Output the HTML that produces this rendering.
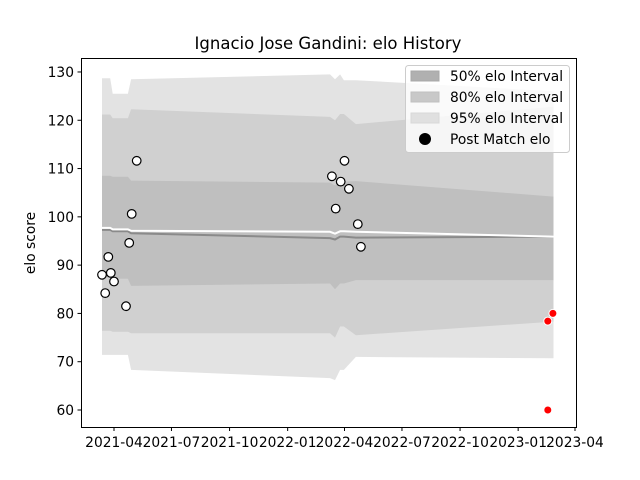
<!DOCTYPE html>
<html><head><meta charset="utf-8">
<style>
body{margin:0;background:#fff;}
svg{display:block;font-family:"DejaVu Sans","Liberation Sans",sans-serif;}
</style></head>
<body>
<svg id="chart" width="640" height="480" viewBox="0 0 640 480">
<rect x="0" y="0" width="640" height="480" fill="#fff"/>
<text x="328" y="49" font-size="16.5" text-anchor="middle">Ignacio Jose Gandini: elo History</text>
<text x="0" y="0" font-size="13.8" text-anchor="middle" transform="translate(35,243) rotate(-90)">elo score</text>
<g id="bands"></g>
<g id="lines"></g>
<g id="points"></g>
<g id="axes"></g>
<g id="legend">
<rect x="405.5" y="65.5" width="164" height="87" rx="3" fill="#fff" fill-opacity="0.8" stroke="#ccc"/>
<rect x="411" y="71" width="28" height="10" fill="#b0b0b0" stroke="#a8a8a8"/>
<text x="450" y="81" font-size="13.8">50% elo Interval</text>
<rect x="411" y="92" width="28" height="10" fill="#c8c8c8" stroke="#c0c0c0"/>
<text x="450" y="102" font-size="13.8">80% elo Interval</text>
<rect x="411" y="113" width="28" height="10" fill="#e0e0e0" stroke="#d8d8d8"/>
<text x="450" y="123" font-size="13.8">95% elo Interval</text>
<circle cx="425" cy="139" r="6" fill="#000"/>
<text x="450" y="144" font-size="13.8">Post Match elo</text>
</g>
</svg>
<script>
const bandDates=["2021-03-13","2021-03-26","2021-03-30","2021-04-23","2021-04-28","2022-03-09","2022-03-17","2022-03-25","2022-03-31","2022-04-19","2023-02-26"];
const hi95=[128.7,128.7,125.5,125.5,128.5,129.5,128.5,129.5,128.3,128.3,126];
const hi80=[121.2,121.2,120.4,120.4,122.3,120.7,120.0,121.3,121.3,119.2,122.8];
const hi50=[108.5,108.5,108.3,108.3,107.5,107.1,106.5,107.3,107.3,107.4,104.2];
const meanLine=[97.7,97.7,97.4,97.4,97.1,96.9,96.5,97.0,97.0,96.9,95.9];
const medLine=[97.3,97.3,97.0,97.0,96.6,95.6,95.3,95.9,95.9,95.7,95.9];
const lo50=[87.4,87.4,87.2,87.2,85.7,86.2,85.0,86.2,86.2,86.9,86.9];
const lo80=[76.4,76.4,76.2,76.2,75.9,75.9,75.0,77.3,77.3,75.5,78.3];
const lo95=[71.4,71.4,71.4,71.4,68.3,66.6,66.2,68.3,68.3,71.0,70.7];
const matchDates=["2021-03-13","2021-03-18","2021-03-23","2021-03-27","2021-04-01","2021-04-20","2021-04-25","2021-04-29","2021-05-07","2022-03-12","2022-03-18","2022-03-26","2022-04-01","2022-04-08","2022-04-22","2022-04-27"];
const matchElo=[88.0,84.2,91.7,88.4,86.6,81.5,94.6,100.6,111.6,108.4,101.7,107.3,111.6,105.8,98.5,93.8];
const futureDates=["2023-02-17","2023-02-17","2023-02-25"];
const futureElo=[78.4,60.0,80.0];
const yTicks=[60,70,80,90,100,110,120,130];
const xTicks=["2021-04","2021-07","2021-10","2022-01","2022-04","2022-07","2022-10","2023-01","2023-04"];

const NS="http://www.w3.org/2000/svg";
const L=81,R=576,T=58,B=427;
const D0=Date.UTC(2021,3,1);
function days(s){const p=s.split("-");return (Date.UTC(+p[0],+p[1]-1,p[2]?+p[2]:1)-D0)/86400000;}
function xs(s){return 114+days(s)*0.6315;}
function ys(v){return 410-(v-60)*4.829;}
function mk(tag,attrs,parent){const e=document.createElementNS(NS,tag);for(const k in attrs)e.setAttribute(k,attrs[k]);parent.appendChild(e);return e;}

const bands=document.getElementById("bands");
function band(hi,lo,fill,name){
  let d="";
  bandDates.forEach((t,i)=>{d+=(i?"L":"M")+xs(t).toFixed(1)+","+ys(hi[i]).toFixed(1);});
  for(let i=bandDates.length-1;i>=0;i--)d+="L"+xs(bandDates[i]).toFixed(1)+","+ys(lo[i]).toFixed(1);
  const p=mk("path",{d:d+"Z",fill:fill},bands);
  
  
}
band(hi95,lo95,"#e3e3e3","band-95");
band(hi80,lo80,"#d0d0d0","band-80");
band(hi50,lo50,"#bfbfbf","band-50");

const lines=document.getElementById("lines");
function line(arr,stroke,w,name){
  const pts=bandDates.map((t,i)=>xs(t).toFixed(1)+","+ys(arr[i]).toFixed(1)).join(" ");
  const p=mk("polyline",{points:pts,fill:"none",stroke:stroke,"stroke-width":w},lines);
  
  
}
line(medLine,"#8a8a8a",2,"median-line");
line(meanLine,"#ffffff",2,"mean-line");

const pts=document.getElementById("points");
matchDates.forEach((t,i)=>{
  const c=mk("circle",{cx:xs(t).toFixed(1),cy:ys(matchElo[i]).toFixed(1),r:4.3,fill:"#fff",stroke:"#000","stroke-width":1.2},pts);
  
  
});
futureDates.forEach((t,i)=>{
  const c=mk("circle",{cx:xs(t).toFixed(1),cy:ys(futureElo[i]).toFixed(1),r:4,fill:"#ff0000",stroke:"#fff","stroke-width":1},pts);
  
  
});

const ax=document.getElementById("axes");
const frame=mk("rect",{x:L+0.5,y:T+0.5,width:R-L,height:B-T,fill:"none",stroke:"#000","stroke-width":1},ax);


yTicks.forEach(v=>{
  const y=ys(v);
  const tk=mk("line",{x1:L-3.5,x2:L+0.5,y1:y,y2:y,stroke:"#000"},ax);
  
  
  const tx=mk("text",{x:L-7,y:y+5,"font-size":13.8,"text-anchor":"end"},ax);
  tx.textContent=v;
  
  
});
xTicks.forEach(s=>{
  const x=xs(s);
  const tk=mk("line",{x1:x,x2:x,y1:B+0.5,y2:B+4,stroke:"#000"},ax);
  
  
  const tx=mk("text",{x:x,y:B+20,"font-size":13.8,"text-anchor":"middle"},ax);
  tx.textContent=s;
  
  
});
</script>
</body></html>
